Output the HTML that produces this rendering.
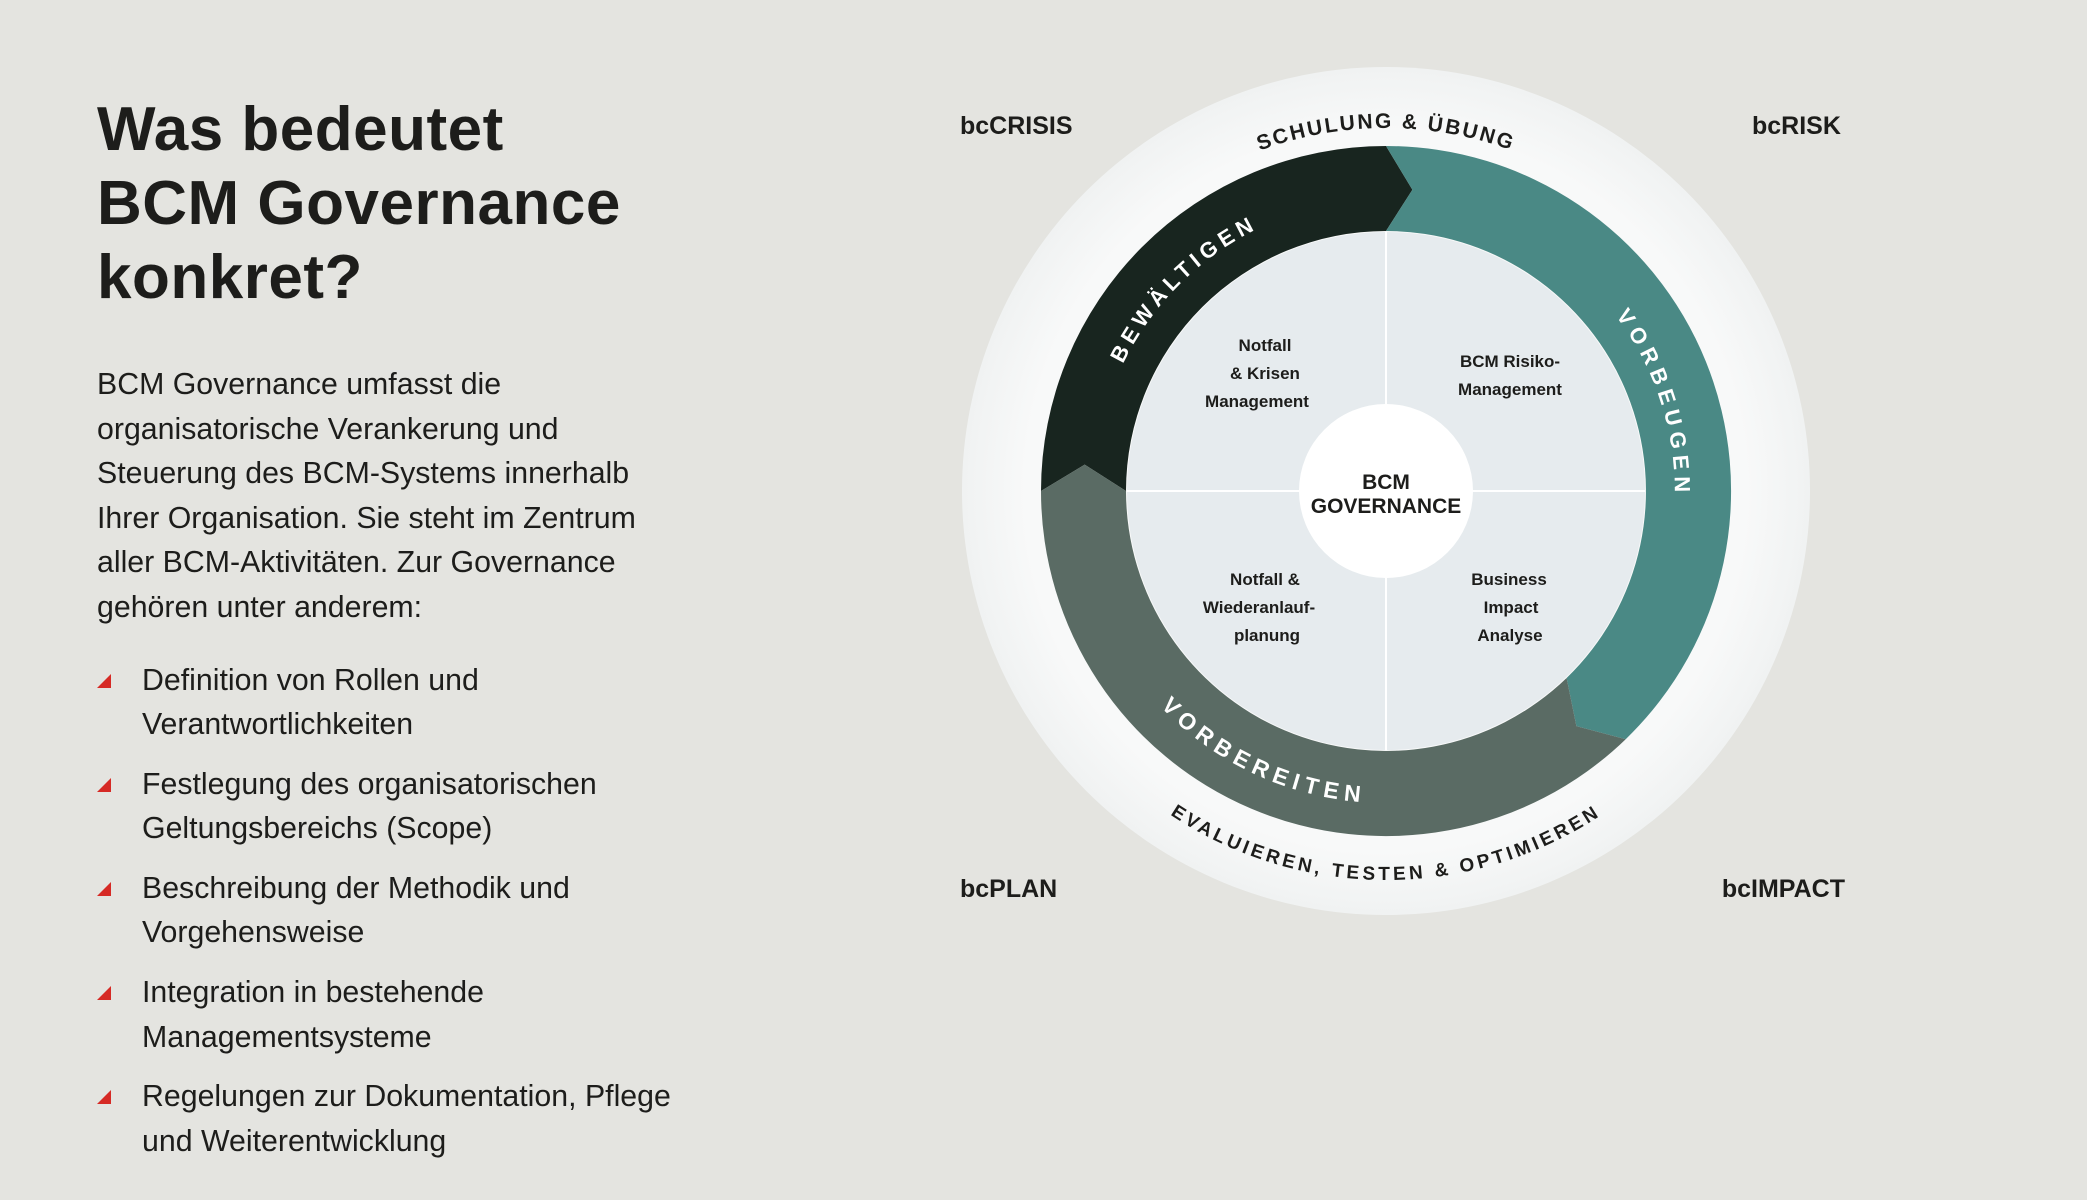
<!DOCTYPE html>
<html><head><meta charset="utf-8"><style>
html,body{margin:0;padding:0}
body{width:2087px;height:1200px;background:#e4e4e0;position:relative;overflow:hidden;font-family:"Liberation Sans","DejaVu Sans",sans-serif;color:#1d1d1b}
.t{position:absolute;left:97px;font-weight:bold;font-size:62px;line-height:74px;letter-spacing:0.5px}
.p{position:absolute;left:97px;font-size:30.3px;line-height:44px;white-space:nowrap}
.b{position:absolute;left:142px;font-size:30.3px;line-height:44px;white-space:nowrap}
.tri{position:absolute;left:97px;width:0;height:0;border-left:14px solid transparent;border-bottom:14px solid #d62a25}
.c{position:absolute;font-weight:bold;font-size:25px;line-height:30px}
</style></head><body>
<div class="t" style="top:93px">Was bedeutet</div>
<div class="t" style="top:167px">BCM Governance</div>
<div class="t" style="top:241px">konkret?</div>

<div class="p" style="top:363px">BCM Governance umfasst die</div>
<div class="p" style="top:408px">organisatorische Verankerung und</div>
<div class="p" style="top:452px">Steuerung des BCM-Systems innerhalb</div>
<div class="p" style="top:497px">Ihrer Organisation. Sie steht im Zentrum</div>
<div class="p" style="top:541px">aller BCM-Aktivitäten. Zur Governance</div>
<div class="p" style="top:586px">gehören unter anderem:</div>

<div class="tri" style="top:674px"></div>
<div class="b" style="top:659px">Definition von Rollen und</div>
<div class="b" style="top:703px">Verantwortlichkeiten</div>
<div class="tri" style="top:778px"></div>
<div class="b" style="top:763px">Festlegung des organisatorischen</div>
<div class="b" style="top:807px">Geltungsbereichs (Scope)</div>
<div class="tri" style="top:882px"></div>
<div class="b" style="top:867px">Beschreibung der Methodik und</div>
<div class="b" style="top:911px">Vorgehensweise</div>
<div class="tri" style="top:986px"></div>
<div class="b" style="top:971px">Integration in bestehende</div>
<div class="b" style="top:1016px">Managementsysteme</div>
<div class="tri" style="top:1090px"></div>
<div class="b" style="top:1075px">Regelungen zur Dokumentation, Pflege</div>
<div class="b" style="top:1120px">und Weiterentwicklung</div>

<div class="c" style="left:960px;top:111px">bcCRISIS</div>
<div class="c" style="left:1752px;top:111px;width:86px;text-align:right">bcRISK</div>
<div class="c" style="left:960px;top:874px">bcPLAN</div>
<div class="c" style="left:1700px;top:874px;width:145px;text-align:right">bcIMPACT</div>

<svg width="2087" height="1200" style="position:absolute;left:0;top:0" xmlns="http://www.w3.org/2000/svg">
<defs>
<radialGradient id="og" cx="50%" cy="50%" r="50%">
<stop offset="0.85" stop-color="#f8f9f9"/><stop offset="1" stop-color="#f0f2f2"/>
</radialGradient>
<path id="ptop" d="M 1023 491 A 363 363 0 0 1 1749 491"/>
<path id="pbot" d="M 997 491 A 389 389 0 0 0 1775 491"/>
<path id="pbew" d="M 1179.5 697.5 A 292 292 0 0 1 1592.5 284.5"/>
<path id="pvbg" d="M 1295.8 213.3 A 292 292 0 0 1 1476.2 768.7"/>
<path id="pvbr" d="M 1103.2 359.1 A 312 312 0 0 0 1668.8 622.9"/>
</defs>
<circle cx="1386" cy="491" r="424" fill="url(#og)"/>
<circle cx="1386" cy="491" r="259" fill="#e6ebee"/>
<line x1="1386" y1="232" x2="1386" y2="750" stroke="#fff" stroke-width="2"/>
<line x1="1127" y1="491" x2="1645" y2="491" stroke="#fff" stroke-width="2"/>
<path d="M 1041 491 A 345 345 0 0 1 1386 146 L 1412.4 189.7 L 1386 231 A 260 260 0 0 0 1126 491 L 1084.7 464.6 Z" fill="#18251f"/>
<path d="M 1386 146 A 345 345 0 0 1 1625.7 739.2 L 1576.4 726.1 L 1566.6 678 A 260 260 0 0 0 1386 231 L 1412.4 189.7 Z" fill="#4a8985"/>
<path d="M 1625.7 739.2 A 345 345 0 0 1 1041 491 L 1084.7 464.6 L 1126 491 A 260 260 0 0 0 1566.6 678 L 1576.4 726.1 Z" fill="#5a6b64"/>
<circle cx="1386" cy="491" r="87" fill="#fff"/>
<g font-family="Liberation Sans, DejaVu Sans, sans-serif" font-weight="bold">
<text font-size="21" fill="#1d1d1b" letter-spacing="2.2" text-anchor="middle"><textPath href="#ptop" startOffset="50%">SCHULUNG &amp; ÜBUNG</textPath></text>
<text font-size="19" fill="#1d1d1b" letter-spacing="3.5" text-anchor="middle"><textPath href="#pbot" startOffset="50%">EVALUIEREN, TESTEN &amp; OPTIMIEREN</textPath></text>
<text font-size="22" fill="#fff" letter-spacing="5" text-anchor="middle"><textPath href="#pbew" startOffset="50%">BEWÄLTIGEN</textPath></text>
<text font-size="22" fill="#fff" letter-spacing="6" text-anchor="middle"><textPath href="#pvbg" startOffset="50%">VORBEUGEN</textPath></text>
<text font-size="23" fill="#fff" letter-spacing="6" text-anchor="middle"><textPath href="#pvbr" startOffset="50%">VORBEREITEN</textPath></text>
<g font-size="17" fill="#1d1d1b" text-anchor="middle">
<text x="1265" y="351">Notfall</text>
<text x="1265" y="379">&amp; Krisen</text>
<text x="1257" y="407">Management</text>
<text x="1510" y="367">BCM Risiko-</text>
<text x="1510" y="395">Management</text>
<text x="1265" y="585">Notfall &amp;</text>
<text x="1259" y="613">Wiederanlauf-</text>
<text x="1267" y="641">planung</text>
<text x="1509" y="585">Business</text>
<text x="1511" y="613">Impact</text>
<text x="1510" y="641">Analyse</text>
</g>
<g font-size="21" fill="#1d1d1b" text-anchor="middle">
<text x="1386" y="489">BCM</text>
<text x="1386" y="513">GOVERNANCE</text>
</g>
</g>
</svg>
</body></html>
